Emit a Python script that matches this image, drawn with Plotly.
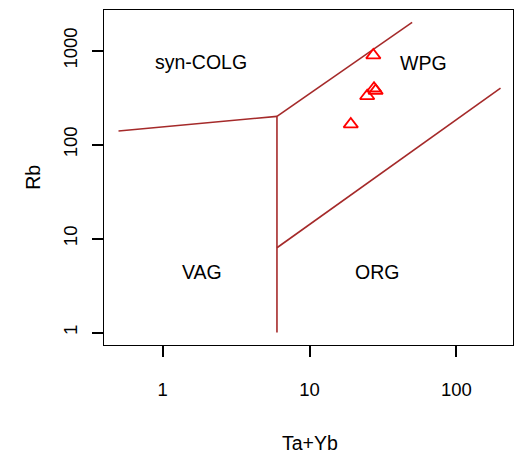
import math
import plotly.graph_objects as go

# Sample data (Ta+Yb vs Rb)
ta_yb = [27.2, 27.5, 28.2, 24.7, 19.1]
rb = [895, 397, 375, 330, 165]

# Pearce et al. (1984) boundaries
b1_x = [0.5, 6]
b1_y = [140, 200]
b2_x = [6, 50]
b2_y = [200, 2000]
b3_x = [6, 200]
b3_y = [8, 400]
b4_x = [6, 6]
b4_y = [1, 200]

field_names = ["syn-COLG", "WPG", "VAG", "ORG"]
field_x = [1.83, 59.4, 1.85, 28.9]
field_y = [760, 745, 4.4, 4.4]

x_ticks = [1, 10, 100]
y_ticks = [1, 10, 100, 1000]

FONT = "Liberation Sans, Arial, sans-serif"
BROWN = "#A52A2A"
LABEL_SIZE = 19.5
TICK_SIZE = 18.5

fig = go.Figure()
for bx, by in [(b1_x, b1_y), (b2_x, b2_y), (b3_x, b3_y), (b4_x, b4_y)]:
    fig.add_trace(go.Scatter(x=bx, y=by, mode="lines",
                             line=dict(color=BROWN, width=1.6),
                             showlegend=False, hoverinfo="skip"))

fig.add_trace(go.Scatter(x=ta_yb, y=rb, mode="markers",
                         marker=dict(symbol="triangle-up-open", size=12.5,
                                     color="red", line=dict(color="red", width=1.8)),
                         showlegend=False))

for name, fx, fy in zip(field_names, field_x, field_y):
    # annotations on log axes take log10 coordinates
    fig.add_annotation(x=math.log10(fx), y=math.log10(fy), xref="x", yref="y",
                       text=name, showarrow=False,
                       font=dict(size=LABEL_SIZE, color="black", family=FONT),
                       xanchor="center", yanchor="middle")

fig.add_annotation(x=0.504, y=-0.294, xref="paper", yref="paper", text="Ta+Yb",
                   showarrow=False, font=dict(size=LABEL_SIZE, color="black", family=FONT),
                   xanchor="center", yanchor="middle")
fig.add_annotation(x=-0.172, y=0.501, xref="paper", yref="paper", text="Rb",
                   showarrow=False, textangle=-90,
                   font=dict(size=LABEL_SIZE, color="black", family=FONT),
                   xanchor="center", yanchor="middle")

fig.update_xaxes(type="log", range=[-0.4, 2.386],
                 tickvals=x_ticks, ticktext=[str(v) for v in x_ticks],
                 ticks="outside", ticklen=11, tickwidth=1.5, tickcolor="black",
                 showline=True, linecolor="black", linewidth=1.3, mirror=True,
                 showgrid=False, zeroline=False,
                 tickfont=dict(size=TICK_SIZE, color="black", family=FONT),
                 ticklabelstandoff=17)
fig.update_yaxes(type="log", range=[-0.132, 3.433],
                 tickvals=y_ticks, ticktext=[str(v) for v in y_ticks],
                 tickangle=-90,
                 ticks="outside", ticklen=11, tickwidth=1.5, tickcolor="black",
                 showline=True, linecolor="black", linewidth=1.3, mirror=True,
                 showgrid=False, zeroline=False,
                 tickfont=dict(size=TICK_SIZE, color="black", family=FONT),
                 ticklabelstandoff=7)

fig.update_layout(width=514, height=458,
                  margin=dict(l=104, r=1, t=10, b=113, pad=0),
                  plot_bgcolor="white", paper_bgcolor="white",
                  font=dict(family=FONT, color="black"))

# remove the default page margin so the figure fills the 514x458 window exactly
fig.write_html("out.html",
               config={"displayModeBar": False},
               post_script="document.body.style.margin='0';document.body.style.overflow='hidden';")
